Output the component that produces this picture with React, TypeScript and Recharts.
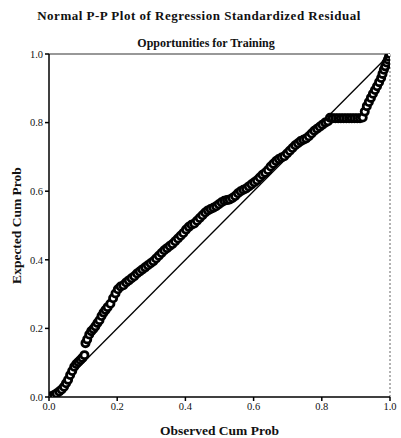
import React from "react";
import { ScatterChart, Scatter, XAxis, YAxis, ReferenceLine, Label } from "recharts";

const observedCumProb: number[] = [
  0.000, 0.008, 0.015, 0.022, 0.030, 0.037, 0.044, 0.050, 0.056, 0.062,
  0.068, 0.074, 0.080, 0.086, 0.092, 0.098, 0.104, 0.107, 0.112, 0.118,
  0.124, 0.130, 0.136, 0.142, 0.148, 0.154, 0.160, 0.166, 0.172, 0.180,
  0.188, 0.195, 0.202, 0.210, 0.218, 0.226, 0.234, 0.242, 0.250, 0.258,
  0.266, 0.274, 0.282, 0.290, 0.298, 0.306, 0.314, 0.322, 0.330, 0.338,
  0.346, 0.354, 0.362, 0.370, 0.378, 0.386, 0.394, 0.402, 0.410, 0.418,
  0.426, 0.434, 0.442, 0.450, 0.458, 0.466, 0.474, 0.482, 0.490, 0.498,
  0.506, 0.514, 0.522, 0.530, 0.538, 0.546, 0.554, 0.562, 0.570, 0.578,
  0.586, 0.594, 0.602, 0.610, 0.618, 0.626, 0.634, 0.642, 0.650, 0.658,
  0.666, 0.674, 0.682, 0.690, 0.698, 0.706, 0.714, 0.722, 0.730, 0.738,
  0.746, 0.754, 0.762, 0.770, 0.778, 0.786, 0.794, 0.802, 0.810, 0.818,
  0.824, 0.832, 0.840, 0.848, 0.856, 0.864, 0.872, 0.880, 0.888, 0.896,
  0.904, 0.912, 0.920, 0.926, 0.932, 0.938, 0.944, 0.950, 0.956, 0.962,
  0.968, 0.974, 0.978, 0.982, 0.986, 0.990, 0.994, 0.997, 1.000,
];

const expectedCumProb: number[] = [
  0.000, 0.003, 0.006, 0.010, 0.016, 0.022, 0.030, 0.040, 0.050, 0.064,
  0.076, 0.088, 0.096, 0.102, 0.108, 0.114, 0.122, 0.157, 0.168, 0.182,
  0.192, 0.198, 0.206, 0.216, 0.224, 0.236, 0.246, 0.254, 0.262, 0.272,
  0.288, 0.302, 0.314, 0.322, 0.326, 0.334, 0.340, 0.346, 0.352, 0.360,
  0.366, 0.372, 0.378, 0.384, 0.390, 0.396, 0.404, 0.412, 0.420, 0.428,
  0.434, 0.440, 0.446, 0.454, 0.462, 0.470, 0.478, 0.488, 0.496, 0.502,
  0.506, 0.514, 0.522, 0.530, 0.538, 0.544, 0.548, 0.552, 0.556, 0.562,
  0.568, 0.572, 0.574, 0.576, 0.580, 0.586, 0.594, 0.600, 0.604, 0.608,
  0.614, 0.620, 0.626, 0.632, 0.640, 0.648, 0.654, 0.662, 0.672, 0.680,
  0.688, 0.694, 0.698, 0.702, 0.710, 0.718, 0.726, 0.734, 0.740, 0.746,
  0.750, 0.754, 0.760, 0.768, 0.776, 0.782, 0.788, 0.794, 0.800, 0.804,
  0.814, 0.813, 0.813, 0.813, 0.813, 0.813, 0.813, 0.813, 0.813, 0.813,
  0.813, 0.813, 0.815, 0.832, 0.848, 0.860, 0.872, 0.884, 0.895, 0.906,
  0.918, 0.930, 0.942, 0.954, 0.964, 0.975, 0.984, 0.992, 1.000,
];

const axisTicks: number[] = [0, 0.2, 0.4, 0.6, 0.8, 1.0];

const title = "Normal P-P Plot of Regression Standardized Residual";
const subtitle = "Opportunities for Training";
const xLabel = "Observed Cum Prob";
const yLabel = "Expected Cum Prob";

const points = observedCumProb.map((x, i) => ({ x, y: expectedCumProb[i] }));

const FONT = "'Liberation Serif', 'DejaVu Serif', serif";

const Marker = (props: any) => {
  const { cx, cy } = props;
  if (cx == null || cy == null) return null;
  return <circle cx={cx} cy={cy} r={3.6} fill="#ffffff" stroke="#000000" strokeWidth={2.8} />;
};

export default function App() {
  return (
    <div style={{ position: "absolute", left: 0, top: 0, width: 401, height: 438, background: "#fff" }}>
      <div
        style={{
          position: "absolute",
          left: 0,
          top: 8,
          width: 398,
          textAlign: "center",
          fontFamily: FONT,
          fontWeight: "bold",
          fontSize: 13,
          letterSpacing: 0.5,
          color: "#111",
          whiteSpace: "nowrap",
        }}
      >
        {title}
      </div>
      <div
        style={{
          position: "absolute",
          left: 0,
          top: 36,
          width: 412,
          textAlign: "center",
          fontFamily: FONT,
          fontWeight: "bold",
          fontSize: 12,
          color: "#111",
          whiteSpace: "nowrap",
        }}
      >
        {subtitle}
      </div>
      <ScatterChart
        width={401}
        height={438}
        margin={{ top: 54, right: 11, bottom: 0, left: 0 }}
        style={{ position: "absolute", left: 0, top: 0 }}
      >
        <XAxis
          type="number"
          dataKey="x"
          domain={[0, 1]}
          ticks={axisTicks}
          tickFormatter={(v: number) => v.toFixed(1)}
          height={41}
          stroke="#000"
          strokeWidth={1.5}
          tickSize={4}
          tick={{ fontFamily: FONT, fontSize: 10.5, fill: "#111" }}
          allowDataOverflow
        >
          <Label
            value={xLabel}
            position="insideBottom"
            offset={3}
            style={{ fontFamily: FONT, fontWeight: "bold", fontSize: 13.5, fill: "#111" }}
          />
        </XAxis>
        <YAxis
          type="number"
          dataKey="y"
          domain={[0, 1]}
          ticks={axisTicks}
          tickFormatter={(v: number) => v.toFixed(1)}
          width={49}
          stroke="#000"
          strokeWidth={1.5}
          tickSize={4}
          tick={{ fontFamily: FONT, fontSize: 10.5, fill: "#111" }}
          allowDataOverflow
        >
          <Label
            value={yLabel}
            angle={-90}
            position="insideLeft"
            offset={16}
            style={{ fontFamily: FONT, fontWeight: "bold", fontSize: 13.5, fill: "#111", textAnchor: "middle" }}
          />
        </YAxis>
        <ReferenceLine y={1} stroke="#333" strokeWidth={1.2} ifOverflow="visible" />
        <ReferenceLine x={1} stroke="#666" strokeWidth={1} strokeDasharray="2 2" ifOverflow="visible" />
        <ReferenceLine
          segment={[
            { x: 0, y: 0 },
            { x: 1, y: 1 },
          ]}
          stroke="#000"
          strokeWidth={1.3}
          ifOverflow="visible"
        />
        <Scatter data={points} shape={<Marker />} isAnimationActive={false} />
      </ScatterChart>
    </div>
  );
}
